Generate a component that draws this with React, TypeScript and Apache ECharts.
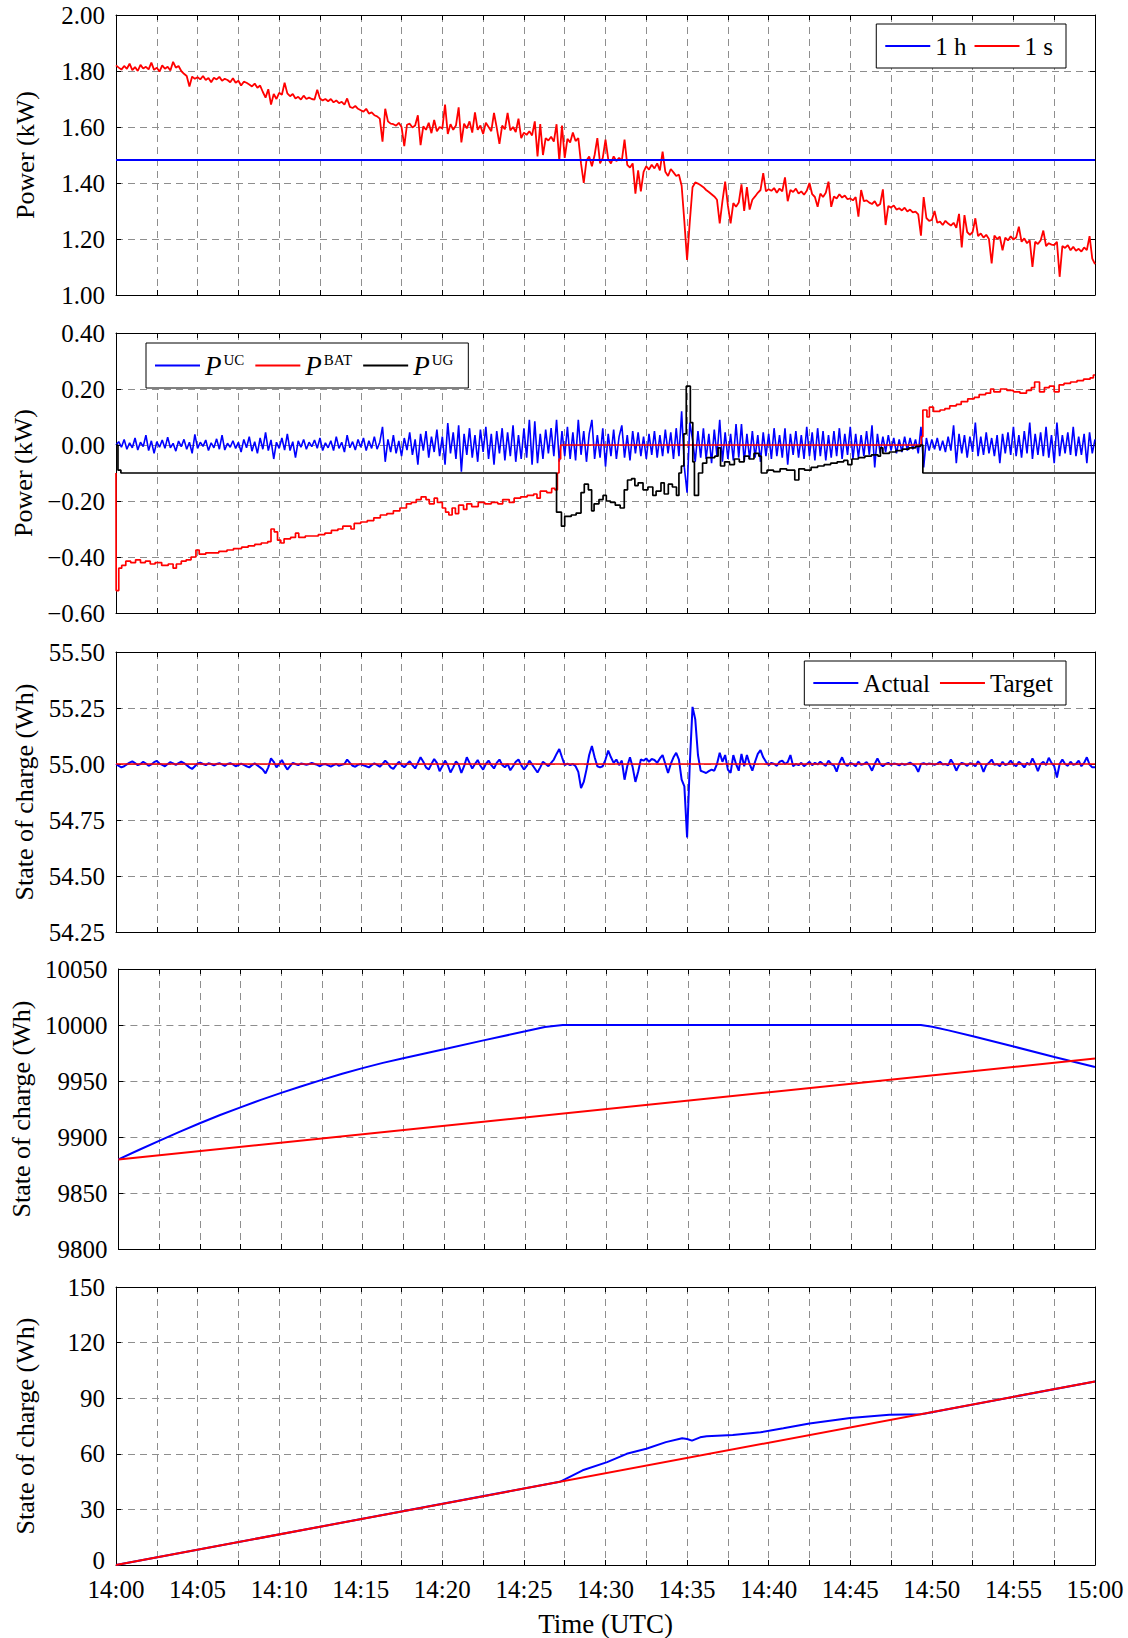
import React, { useEffect, useRef } from 'react';
import * as echarts from 'echarts';

// ---------------- data ----------------
// uniformly sampled series: one value every 10 s (1/6 minute), 14:00 -> 15:00
const SAMPLE_MIN = 1 / 6;

const X_LABELS = ['14:00', '14:05', '14:10', '14:15', '14:20', '14:25', '14:30', '14:35', '14:40', '14:45', '14:50', '14:55', '15:00'];

// Panel 1: demand power (kW)
const P1_1H_VALUE = 1.482;
const P1_1S = [
  1.820, 1.812, 1.805, 1.818, 1.808, 1.826,
  1.803, 1.814, 1.800, 1.822, 1.809, 1.815,
  1.806, 1.830, 1.804, 1.812, 1.798, 1.820,
  1.808, 1.815, 1.802, 1.833, 1.812, 1.818,
  1.800, 1.790, 1.782, 1.745, 1.780, 1.772,
  1.778, 1.770, 1.782, 1.768, 1.775, 1.760,
  1.776, 1.770, 1.779, 1.765, 1.772, 1.768,
  1.760, 1.774, 1.758, 1.765, 1.748, 1.762,
  1.758, 1.752, 1.745, 1.755, 1.740, 1.748,
  1.725, 1.705, 1.735, 1.680, 1.718, 1.700,
  1.722, 1.715, 1.758, 1.720, 1.710, 1.718,
  1.702, 1.708, 1.698, 1.712, 1.700, 1.705,
  1.700, 1.698, 1.733, 1.702, 1.695, 1.700,
  1.692, 1.700, 1.688, 1.695, 1.685, 1.690,
  1.680, 1.702, 1.672, 1.668, 1.675, 1.665,
  1.660, 1.655, 1.665, 1.648, 1.652, 1.642,
  1.638, 1.630, 1.548, 1.665, 1.620, 1.612,
  1.610, 1.605, 1.615, 1.600, 1.532, 1.608,
  1.612, 1.598, 1.605, 1.642, 1.535, 1.602,
  1.590, 1.615, 1.578, 1.625, 1.585, 1.600,
  1.595, 1.680, 1.575, 1.610, 1.590, 1.605,
  1.670, 1.545, 1.612, 1.595, 1.620, 1.580,
  1.652, 1.590, 1.605, 1.575, 1.615, 1.600,
  1.585, 1.650, 1.598, 1.540, 1.605, 1.592,
  1.650, 1.588, 1.600, 1.582, 1.630, 1.560,
  1.580, 1.572, 1.585, 1.570, 1.620, 1.495,
  1.610, 1.500, 1.560, 1.552, 1.565, 1.548,
  1.610, 1.480, 1.605, 1.490, 1.558, 1.545,
  1.580, 1.550, 1.560, 1.470, 1.400, 1.480,
  1.495, 1.460, 1.500, 1.560, 1.470, 1.490,
  1.555, 1.485, 1.470, 1.495, 1.478, 1.490,
  1.480, 1.555, 1.465, 1.455, 1.470, 1.362,
  1.445, 1.370, 1.440, 1.460, 1.448, 1.465,
  1.452, 1.470, 1.445, 1.512, 1.440, 1.425,
  1.450, 1.438, 1.425, 1.430, 1.390, 1.262,
  1.125, 1.262, 1.385, 1.402, 1.398, 1.392,
  1.385, 1.375, 1.368, 1.360, 1.352, 1.340,
  1.256, 1.335, 1.405, 1.320, 1.256, 1.328,
  1.315, 1.330, 1.395, 1.300, 1.385, 1.305,
  1.340, 1.352, 1.365, 1.375, 1.435, 1.370,
  1.378, 1.372, 1.382, 1.365, 1.380, 1.370,
  1.420, 1.335, 1.375, 1.368, 1.380, 1.362,
  1.370, 1.358, 1.372, 1.400, 1.360, 1.350,
  1.315, 1.362, 1.350, 1.365, 1.405, 1.315,
  1.352, 1.345, 1.360, 1.348, 1.355, 1.342,
  1.345, 1.338, 1.350, 1.280, 1.375, 1.335,
  1.338, 1.330, 1.325, 1.335, 1.318, 1.325,
  1.377, 1.250, 1.318, 1.312, 1.320, 1.305,
  1.310, 1.302, 1.312, 1.298, 1.305, 1.295,
  1.298, 1.288, 1.212, 1.350, 1.275, 1.265,
  1.268, 1.300, 1.258, 1.262, 1.250, 1.265,
  1.255, 1.248, 1.258, 1.240, 1.290, 1.170,
  1.285, 1.225, 1.215, 1.225, 1.274, 1.210,
  1.220, 1.205, 1.215, 1.200, 1.113, 1.212,
  1.200, 1.208, 1.160, 1.205, 1.195, 1.210,
  1.198, 1.205, 1.244, 1.190, 1.202, 1.185,
  1.195, 1.100, 1.190, 1.182, 1.195, 1.230,
  1.175, 1.185, 1.180, 1.178, 1.190, 1.065,
  1.175, 1.168, 1.178, 1.160, 1.172, 1.158,
  1.165, 1.155, 1.170, 1.160, 1.210, 1.130,
  1.110,
];

// Panel 2: component powers (kW)
const P2_UC = [
  0.000, 0.012, -0.008, 0.020, -0.015, 0.008,
  -0.010, 0.025, -0.018, 0.010, -0.006, 0.035,
  -0.020, 0.015, -0.030, 0.012, -0.008, 0.018,
  -0.012, 0.028, -0.010, 0.006, -0.022, 0.014,
  -0.006, 0.020, -0.015, 0.010, -0.030, 0.038,
  -0.012, 0.010, -0.005, 0.018, -0.020, 0.008,
  -0.010, 0.022, -0.015, 0.035, -0.018, 0.006,
  -0.008, 0.015, -0.012, 0.010, -0.025, 0.020,
  -0.010, 0.030, -0.022, 0.012, -0.030, 0.025,
  -0.015, 0.045, -0.020, 0.018, -0.050, 0.010,
  -0.012, 0.025, -0.018, 0.040, -0.020, 0.012,
  -0.045, 0.015, -0.008, 0.020, -0.015, 0.010,
  -0.006, 0.018, -0.012, 0.025, -0.020, 0.008,
  -0.010, 0.015, -0.020, 0.030, -0.012, 0.010,
  -0.025, 0.035, -0.010, 0.012, -0.018, 0.020,
  -0.008, 0.025, -0.020, 0.015, -0.012, 0.030,
  -0.015, 0.010, 0.065, -0.060, 0.020, -0.025,
  0.035, -0.030, 0.015, -0.040, 0.025, -0.018,
  0.045, -0.035, 0.020, -0.070, 0.040, -0.020,
  0.050, -0.045, 0.030, -0.025, 0.055, -0.040,
  0.030, -0.070, 0.078, -0.030, 0.045, -0.050,
  0.070, -0.095, 0.040, -0.035, 0.060, -0.045,
  0.035, -0.060, 0.055, -0.025, 0.065, -0.050,
  0.040, -0.070, 0.050, -0.030, 0.060, -0.055,
  0.045, -0.040, 0.070, -0.060, 0.035, -0.050,
  0.060, -0.045, 0.090, -0.070, 0.085, -0.065,
  0.040, -0.050, 0.055, -0.030, 0.060, -0.040,
  0.090, -0.060, 0.050, -0.040, 0.065, -0.050,
  0.045, -0.055, 0.090, -0.035, 0.050, -0.060,
  0.040, 0.090, -0.050, 0.035, -0.045, 0.060,
  -0.077, 0.040, -0.040, 0.055, -0.050, 0.030,
  0.070, -0.045, 0.035, -0.055, 0.050, -0.030,
  0.045, -0.040, 0.030, -0.050, 0.040, -0.035,
  0.050, -0.045, 0.035, -0.040, 0.055, -0.030,
  0.045, -0.050, 0.060, -0.040, 0.120, -0.080,
  -0.170, 0.080, 0.020, -0.060, 0.050, -0.045,
  0.060, -0.050, 0.040, -0.065, 0.055, -0.040,
  0.090, -0.060, 0.045, -0.050, 0.040, -0.055,
  0.075, -0.045, 0.075, -0.060, 0.040, -0.050,
  0.050, -0.045, 0.035, -0.060, 0.045, -0.040,
  0.040, -0.050, 0.060, -0.040, 0.035, -0.045,
  0.060, -0.070, 0.040, -0.035, 0.050, -0.045,
  0.035, -0.050, 0.065, -0.040, 0.045, -0.055,
  0.060, -0.040, 0.050, -0.055, 0.035, -0.045,
  0.050, -0.040, 0.060, -0.050, 0.040, -0.035,
  0.065, -0.050, 0.040, -0.045, 0.035, -0.040,
  0.050, -0.035, 0.070, -0.080, 0.040, -0.030,
  0.030, -0.025, 0.035, -0.020, 0.025, -0.030,
  0.020, -0.025, 0.030, -0.020, 0.025, -0.015,
  0.020, -0.030, 0.065, -0.080, 0.025, -0.020,
  0.020, -0.015, 0.025, -0.020, 0.015, -0.025,
  0.030, -0.020, 0.070, -0.065, 0.040, -0.030,
  0.035, -0.045, 0.030, -0.025, 0.080, -0.040,
  0.030, -0.035, 0.045, -0.030, 0.025, -0.040,
  0.035, -0.065, 0.040, -0.030, 0.045, -0.035,
  0.065, -0.040, 0.035, -0.045, 0.050, -0.030,
  0.080, -0.050, 0.040, -0.035, 0.045, -0.040,
  0.065, -0.045, 0.035, -0.065, 0.080, -0.040,
  0.035, -0.030, 0.045, -0.035, 0.065, -0.040,
  0.030, -0.035, 0.040, -0.065, 0.045, -0.030,
  0.020,
];

// battery power, step changes (minute after 14:00, kW)
const P2_BAT_T = [
  0, 0.01, 0.17, 0.35, 0.6, 0.9, 1.2, 1.5, 1.8, 2.1, 2.4, 2.8, 3.2, 3.5, 3.7, 4.0, 4.3, 4.6, 4.9, 5.1,
  5.5, 6.0, 6.3, 6.8, 7.2, 7.7, 8.1, 8.5, 8.9, 9.3, 9.5, 9.7, 9.9, 10.1, 10.3, 10.7, 11.0, 11.2, 11.6, 12.0,
  12.4, 12.8, 13.2, 13.6, 13.9, 14.2, 14.4, 14.6, 15.0, 15.4, 15.8, 16.2, 16.6, 17.0, 17.4, 17.8, 18.1, 18.4, 18.7, 19.0,
  19.2, 19.5, 19.7, 20.0, 20.2, 20.4, 20.6, 20.8, 21.0, 21.3, 21.5, 21.8, 22.2, 22.6, 23.0, 23.4, 23.7, 24.1, 24.4, 24.8,
  25.2, 25.6, 25.8, 26.0, 26.4, 26.7, 26.9, 27.05, 27.15, 27.25, 49.3, 49.35, 49.45, 49.7, 49.85, 50.1, 50.5, 50.8, 51.1, 51.5,
  51.8, 52.2, 52.6, 52.9, 53.3, 53.6, 53.8, 54.2, 54.6, 55.0, 55.4, 55.8, 56.1, 56.3, 56.6, 56.9, 57.2, 57.5, 57.8, 58.1,
  58.5, 58.9, 59.3, 59.7, 59.9, 60,
];
const P2_BAT_V = [
  -0.10, -0.52, -0.44, -0.43, -0.415, -0.42, -0.41, -0.42, -0.415, -0.425, -0.42, -0.43, -0.425, -0.44, -0.425, -0.415, -0.41, -0.40, -0.375, -0.39,
  -0.385, -0.385, -0.38, -0.375, -0.37, -0.365, -0.36, -0.355, -0.35, -0.345, -0.30, -0.31, -0.34, -0.35, -0.335, -0.33, -0.315, -0.33, -0.325, -0.325,
  -0.32, -0.315, -0.305, -0.30, -0.29, -0.29, -0.30, -0.28, -0.275, -0.27, -0.26, -0.25, -0.245, -0.235, -0.225, -0.21, -0.205, -0.195, -0.185, -0.195,
  -0.21, -0.19, -0.205, -0.225, -0.24, -0.25, -0.225, -0.245, -0.215, -0.23, -0.21, -0.22, -0.205, -0.21, -0.205, -0.21, -0.195, -0.205, -0.19, -0.185,
  -0.18, -0.175, -0.19, -0.165, -0.17, -0.155, -0.16, -0.10, -0.05, 0.0, 0.0, 0.03, 0.125, 0.10, 0.135, 0.12, 0.125, 0.13, 0.14, 0.145,
  0.155, 0.165, 0.17, 0.18, 0.185, 0.20, 0.19, 0.20, 0.195, 0.19, 0.185, 0.195, 0.205, 0.225, 0.19, 0.205, 0.21, 0.19, 0.215, 0.22,
  0.225, 0.23, 0.235, 0.24, 0.25, 0.25,
];

// grid power, step changes (minute after 14:00, kW)
const P2_UG_T = [
  0, 0.12, 0.3, 26.95, 27.0, 27.3, 27.5, 27.9, 28.2, 28.5, 28.7, 28.95, 29.15, 29.3, 29.6, 29.85, 30.05, 30.3, 30.6, 30.9,
  31.15, 31.35, 31.6, 31.8, 32.0, 32.3, 32.6, 32.9, 33.1, 33.4, 33.6, 33.85, 34.1, 34.35, 34.5, 34.65, 34.8, 34.95, 35.2, 35.35,
  35.45, 35.7, 35.95, 36.2, 36.7, 36.9, 37.05, 37.3, 37.6, 37.9, 38.2, 38.5, 38.8, 39.1, 39.4, 39.55, 39.9, 40.3, 40.7, 41.1,
  41.6, 41.85, 42.2, 42.6, 43.0, 43.4, 43.8, 44.2, 44.6, 44.85, 45.1, 45.5, 45.9, 46.3, 46.7, 46.85, 47.0, 47.4, 47.8, 48.2,
  48.6, 49.0, 49.3, 49.45, 60,
];
const P2_UG_V = [
  0.0, -0.09, -0.10, -0.10, -0.24, -0.29, -0.255, -0.25, -0.243, -0.17, -0.14, -0.16, -0.235, -0.21, -0.195, -0.18, -0.2, -0.205, -0.215, -0.225,
  -0.16, -0.125, -0.12, -0.145, -0.135, -0.16, -0.15, -0.18, -0.165, -0.135, -0.175, -0.14, -0.15, -0.18, -0.10, -0.075, 0.04, 0.21, 0.08, -0.06,
  -0.18, -0.10, -0.065, -0.045, -0.04, -0.01, -0.075, -0.06, -0.07, -0.05, -0.06, -0.04, -0.05, -0.03, -0.04, -0.10, -0.09, -0.095, -0.085, -0.09,
  -0.125, -0.085, -0.09, -0.08, -0.075, -0.07, -0.065, -0.06, -0.055, -0.07, -0.05, -0.045, -0.04, -0.035, -0.04, -0.01, -0.03, -0.025, -0.02, -0.015,
  -0.01, -0.005, 0.0, -0.10, -0.10,
];

// Panel 3: ultracapacitor state of charge (Wh)
const P3_TARGET_VALUE = 55.0;
const P3_ACTUAL = [
  55.000, 54.992, 54.985, 54.990, 54.998, 55.006,
  55.012, 55.004, 54.995, 55.000, 55.010, 55.002,
  54.992, 54.998, 55.008, 55.014, 55.002, 54.996,
  54.990, 55.000, 55.008, 55.003, 54.996, 55.004,
  55.010, 55.004, 54.995, 54.985, 54.978, 54.990,
  55.002, 55.006, 55.000, 54.995, 55.003, 55.000,
  54.994, 55.000, 55.004, 54.998, 54.992, 55.000,
  55.004, 54.998, 54.990, 54.995, 55.002, 54.996,
  54.990, 54.985, 54.995, 55.003, 54.994, 54.985,
  54.975, 54.958, 54.985, 55.025, 55.010, 54.985,
  55.000, 55.018, 54.995, 54.975, 54.990, 55.005,
  55.000, 54.995, 55.002, 55.000, 54.996, 55.000,
  55.005, 55.000, 54.996, 54.990, 54.998, 55.000,
  54.994, 54.988, 54.995, 55.000, 54.992, 54.996,
  55.000, 55.020, 55.005, 54.992, 54.988, 54.996,
  55.000, 54.994, 54.990, 54.985, 54.995, 55.003,
  54.996, 54.988, 55.000, 55.015, 55.002, 54.985,
  54.978, 54.995, 55.010, 54.996, 54.985, 55.000,
  55.012, 54.995, 54.980, 55.005, 55.030, 55.010,
  54.985, 54.975, 55.000, 55.022, 55.005, 54.968,
  54.990, 55.015, 54.995, 54.962, 54.985, 55.012,
  54.998, 54.960, 54.990, 55.030, 55.005, 54.980,
  55.000, 55.018, 54.992, 54.975, 55.000, 55.015,
  54.995, 54.980, 55.005, 55.020, 54.996, 54.985,
  55.000, 54.972, 54.990, 55.010, 55.020, 54.995,
  54.975, 54.990, 55.015, 54.998, 54.980, 54.962,
  54.985, 55.010, 55.000, 54.990, 55.005, 55.020,
  55.045, 55.067, 55.030, 54.995, 55.002, 54.995,
  55.000, 54.990, 54.965, 54.892, 54.920, 54.975,
  55.040, 55.080, 55.030, 54.990, 54.985, 54.990,
  55.020, 55.060, 55.030, 55.005, 55.020, 54.995,
  55.015, 54.930, 54.990, 55.030, 54.985, 54.920,
  54.965, 55.020, 55.015, 55.025, 55.010, 55.022,
  55.018, 55.005, 55.025, 55.040, 55.000, 54.960,
  55.000, 55.030, 55.050, 55.020, 54.930, 54.900,
  54.672, 55.000, 55.255, 55.200, 55.040, 54.970,
  54.965, 54.960, 54.968, 54.975, 54.970, 55.000,
  55.050, 55.010, 55.040, 54.975, 54.960, 55.040,
  55.000, 54.970, 55.045, 54.990, 55.040, 55.000,
  54.970, 55.010, 55.045, 55.062, 55.030, 55.010,
  54.995, 55.005, 55.000, 54.992, 55.010, 55.015,
  55.000, 55.008, 55.040, 54.990, 55.000, 54.995,
  55.005, 54.990, 55.000, 55.010, 54.995, 55.005,
  54.998, 55.010, 55.000, 54.992, 55.015, 55.000,
  54.994, 54.966, 55.005, 55.030, 55.000, 54.992,
  55.005, 55.000, 54.990, 55.010, 54.996, 55.000,
  55.008, 54.994, 54.970, 55.000, 55.025, 55.000,
  54.990, 55.000, 55.005, 54.996, 55.002, 55.000,
  54.994, 55.002, 54.996, 55.000, 55.006, 54.998,
  54.990, 54.965, 55.000, 55.004, 54.998, 55.002,
  55.000, 54.996, 55.002, 55.010, 54.998, 55.000,
  54.994, 55.020, 55.000, 54.970, 54.995, 55.005,
  55.000, 54.992, 55.004, 55.000, 54.990, 55.012,
  54.998, 54.965, 54.995, 55.005, 55.020, 54.996,
  55.000, 54.990, 55.010, 54.995, 55.000, 55.015,
  54.998, 54.990, 55.010, 55.000, 54.985, 55.005,
  54.996, 55.025, 55.000, 54.968, 55.000, 55.010,
  54.995, 55.028, 55.005, 54.990, 54.940, 55.000,
  55.020, 55.000, 54.992, 55.010, 54.996, 55.000,
  55.015, 54.990, 55.005, 55.030, 54.998, 54.985,
  54.985,
];

// Panel 4: battery state of charge (Wh)
const P4_ACTUAL_T = [0, 1.25, 2.5, 3.75, 5, 6.25, 7.5, 8.75, 10, 11.25, 12.5, 13.75, 15, 16.25, 17.5, 18.75, 20, 22.5, 25, 26.2, 27.3, 49.3, 50, 51, 52.5, 55, 57.5, 60];
const P4_ACTUAL_V = [9880, 9888.4, 9896.5, 9904.6, 9912.3, 9919.6, 9926.5, 9933.1, 9939.4, 9945.3, 9951, 9956.4, 9961.5, 9966.2, 9970.4, 9974.4, 9978.3, 9986.5, 9994.4, 9998.3, 10000, 10000, 9998.5, 9995.2, 9990, 9980.8, 9971.4, 9962.5];
const P4_TARGET_T = [0, 60];
const P4_TARGET_V = [9880, 9970];

// Panel 5: storage state of charge (Wh)
const P5_ACTUAL_T = [0, 27.2, 28.6, 30.1, 31.3, 32.5, 33.7, 34.7, 35.0, 35.3, 35.8, 36.2, 37.8, 39.5, 40.9, 42.5, 45.0, 47.4, 49.3, 49.6, 60];
const P5_ACTUAL_V = [0, 44.9, 51.1, 55.5, 60.0, 62.7, 66.3, 68.4, 68.0, 67.1, 68.9, 69.5, 70.2, 71.6, 73.8, 76.4, 79.3, 81.1, 81.4, 81.8, 99];
const P5_TARGET_T = [0, 60];
const P5_TARGET_V = [0, 99];

// axes
const Y_MIN = [1, -0.6, 54.25, 9800, 0];
const Y_MAX = [2, 0.4, 55.5, 10050, 150];
const Y_INTERVAL = [0.2, 0.2, 0.25, 50, 30];
const Y_DECIMALS = [2, 2, 2, 0, 0];
const Y_NAMES = ['Power (kW)', 'Power (kW)', 'State of charge (Wh)', 'State of charge (Wh)', 'State of charge (Wh)'];

// ---------------- layout / style ----------------
const FONT = '"Liberation Serif", "Times New Roman", serif';
const GRID_TOPS = [15, 333, 652, 969, 1287];
const GRID_LEFT = 116;
const GRID_WIDTH = 979;
const GRID_HEIGHT = 280;
const BLUE = '#0000ff';
const RED = '#ff0000';
const BLACK = '#000000';
const GRID_GRAY = '#8e8e8e';

const uniform = (vals: number[]) => vals.map((v, i) => [i * SAMPLE_MIN, v]);
const pairs = (t: number[], v: number[]) => t.map((x, i) => [x, v[i]]);

function fmtY(panel: number) {
  const last = panel === GRID_TOPS.length - 1;
  return (v: number) => {
    if (Math.abs(v) < 1e-9) {
      const z = Y_DECIMALS[panel] ? (0).toFixed(Y_DECIMALS[panel]) : '0';
      // lift the corner "0" a little so it clears the time label below it
      return last ? '{lift|' + z + '}' : z;
    }
    const s = Math.abs(v).toFixed(Y_DECIMALS[panel]);
    return v < 0 ? '\u2212' + s : s;
  };
}

function buildOption(): any {
  const axisLine = { onZero: false, lineStyle: { color: BLACK, width: 1 } };
  const axisTick = { show: true, inside: true, length: 5, lineStyle: { color: BLACK, width: 1 } };
  const dashed = { show: true, lineStyle: { color: GRID_GRAY, width: 1, type: [7, 5] } };

  const grid = GRID_TOPS.map((top) => ({ left: GRID_LEFT, top, width: GRID_WIDTH, height: GRID_HEIGHT }));

  const xAxis: any[] = [];
  const yAxis: any[] = [];
  GRID_TOPS.forEach((_, i) => {
    const isLast = i === GRID_TOPS.length - 1;
    xAxis.push({
      gridIndex: i, type: 'value', position: 'bottom', min: 0, max: 60, interval: 2.5,
      axisLine, axisTick, splitLine: dashed,
      axisLabel: isLast
        ? {
            show: true, margin: 14, color: BLACK, fontFamily: FONT, fontSize: 25, lineHeight: 20,
            formatter: (v: number) => {
              const k = v / 5;
              return Math.abs(k - Math.round(k)) < 1e-6 ? X_LABELS[Math.round(k)] : '';
            },
          }
        : { show: false },
      name: isLast ? 'Time (UTC)' : '',
      nameLocation: 'middle', nameGap: 45,
      nameTextStyle: { color: BLACK, fontFamily: FONT, fontSize: 27 },
    });
    xAxis.push({
      gridIndex: i, type: 'value', position: 'top', min: 0, max: 60, interval: 2.5,
      axisLine, axisTick, splitLine: { show: false }, axisLabel: { show: false },
    });
    yAxis.push({
      gridIndex: i, type: 'value', position: 'left',
      min: Y_MIN[i], max: Y_MAX[i], interval: Y_INTERVAL[i],
      axisLine, axisTick, splitLine: dashed,
      axisLabel: {
        show: true, margin: 11, color: BLACK, fontFamily: FONT, fontSize: 25, lineHeight: 16, formatter: fmtY(i),
        rich: { lift: { fontFamily: FONT, fontSize: 25, color: BLACK, lineHeight: 16, padding: [0, 0, 10, 0] } },
      },
      name: Y_NAMES[i], nameLocation: 'middle', nameGap: 78,
      nameTextStyle: { color: BLACK, fontFamily: FONT, fontSize: 26 },
    });
    yAxis.push({
      gridIndex: i, type: 'value', position: 'right',
      min: Y_MIN[i], max: Y_MAX[i], interval: Y_INTERVAL[i],
      axisLine, axisTick, splitLine: { show: false }, axisLabel: { show: false },
    });
  });

  const line = (name: string, panel: number, data: any[], color: string, width: number, extra: any = {}) => ({
    name, type: 'line', xAxisIndex: panel * 2, yAxisIndex: panel * 2, data,
    symbol: 'none', showSymbol: false, color,
    lineStyle: { color, width }, itemStyle: { color },
    emphasis: { disabled: true }, ...extra,
  });

  const series = [
    line('1 s', 0, uniform(P1_1S), RED, 1.8),
    line('1 h', 0, [[0, P1_1H_VALUE], [60, P1_1H_VALUE]], BLUE, 2),
    line('PUC', 1, uniform(P2_UC), BLUE, 1.6),
    line('PBAT', 1, pairs(P2_BAT_T, P2_BAT_V), RED, 1.7, { step: 'end' }),
    line('PUG', 1, pairs(P2_UG_T, P2_UG_V), BLACK, 1.7, { step: 'end' }),
    line('Actual', 2, uniform(P3_ACTUAL), BLUE, 2),
    line('Target', 2, [[0, P3_TARGET_VALUE], [60, P3_TARGET_VALUE]], RED, 1.6),
    line('Actual battery', 3, pairs(P4_ACTUAL_T, P4_ACTUAL_V), BLUE, 2),
    line('Target battery', 3, pairs(P4_TARGET_T, P4_TARGET_V), RED, 2),
    line('Actual storage', 4, pairs(P5_ACTUAL_T, P5_ACTUAL_V), BLUE, 2),
    line('Target storage', 4, pairs(P5_TARGET_T, P5_TARGET_V), RED, 2),
  ];

  const legendBase = {
    orient: 'horizontal', icon: 'rect', itemWidth: 45, itemHeight: 2, itemGap: 8,
    padding: [9, 13, 9, 9], borderColor: BLACK, borderWidth: 1, backgroundColor: '#ffffff',
    selectedMode: false,
    textStyle: { color: BLACK, fontFamily: FONT, fontSize: 25, lineHeight: 26 },
  };
  const supNames: Record<string, string> = { PUC: '{i|P}{s|UC}', PBAT: '{i|P}{s|BAT}', PUG: '{i|P}{s|UG}' };

  const legend = [
    { ...legendBase, data: ['1 h', '1 s'], right: 62, top: 24 },
    {
      ...legendBase, data: ['PUC', 'PBAT', 'PUG'], left: 146, top: 343, itemGap: 11,
      padding: [9, 15, 9, 9],
      formatter: (n: string) => supNames[n] || n,
      textStyle: {
        ...legendBase.textStyle,
        rich: {
          i: { fontFamily: FONT, fontSize: 27, fontStyle: 'italic', color: BLACK, lineHeight: 26 },
          s: { fontFamily: FONT, fontSize: 15, color: BLACK, verticalAlign: 'top', lineHeight: 15, padding: [0, 0, 0, 2] },
        },
      },
    },
    { ...legendBase, data: ['Actual', 'Target'], right: 62, top: 661, itemGap: 10 },
  ];

  return {
    animation: false,
    backgroundColor: '#ffffff',
    textStyle: { fontFamily: FONT },
    grid, xAxis, yAxis, series, legend,
  };
}

export default function App() {
  const ref = useRef<HTMLDivElement>(null);
  useEffect(() => {
    if (!ref.current) return;
    const chart = echarts.init(ref.current, undefined, { renderer: 'svg' });
    chart.setOption(buildOption());
    return () => chart.dispose();
  }, []);
  return (
    <div
      ref={ref}
      style={{ position: 'absolute', left: 0, top: 0, width: 1128, height: 1638, background: '#ffffff' }}
    />
  );
}
